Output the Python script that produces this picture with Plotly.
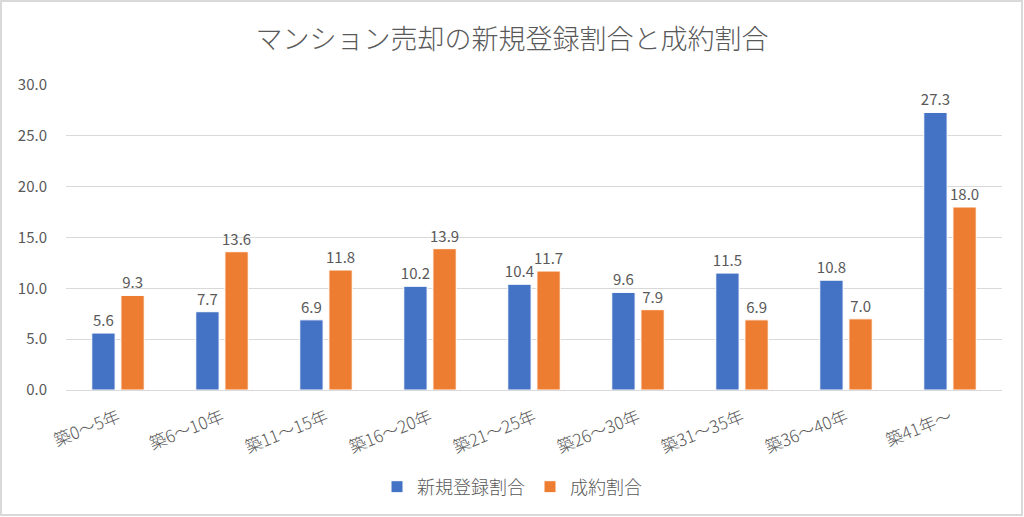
import plotly.graph_objects as go

categories = ["築0～5年", "築6～10年", "築11～15年", "築16～20年", "築21～25年",
              "築26～30年", "築31～35年", "築36～40年", "築41年～"]
new_listing = [5.6, 7.7, 6.9, 10.2, 10.4, 9.6, 11.5, 10.8, 27.3]
contracted = [9.3, 13.6, 11.8, 13.9, 11.7, 7.9, 6.9, 7.0, 18.0]
series_names = ["新規登録割合", "成約割合"]
y_ticks = [0, 5, 10, 15, 20, 25, 30]

FONT = "Noto Sans CJK JP"
GRAY = "#595959"

fig = go.Figure()
for name, vals, color in [(series_names[0], new_listing, "#4472C4"),
                          (series_names[1], contracted, "#ED7D31")]:
    fig.add_trace(go.Bar(
        x=categories, y=vals, name=name,
        marker=dict(color=color, line=dict(color="white", width=1)),
        text=[f"{v:.1f}" for v in vals], textposition="outside",
        constraintext="none",
        textfont=dict(family=FONT, size=15, color=GRAY),
        cliponaxis=False,
    ))

L, R, T, B = 66, 22, 85, 127
W, H = 1024, 517
pw, ph = W - L - R, H - T - B

def px_x(p):
    return (p - L) / pw

def px_y(p):
    return (H - B - p) / ph

fig.update_layout(
    width=W, height=H,
    margin=dict(l=L, r=R, t=T, b=B, autoexpand=False),
    paper_bgcolor="white", plot_bgcolor="white",
    font=dict(family=FONT, color=GRAY),
    title=dict(text="マンション売却の新規登録割合と成約割合", x=0.5, xref="container",
               y=1 - 40 / H, yref="container", xanchor="center", yanchor="middle",
               font=dict(size=27, color=GRAY, family=FONT, weight=300)),
    barmode="group", bargap=0.44, bargroupgap=0.2,
    showlegend=True,
    legend=dict(orientation="h", x=px_x(512), xanchor="center", y=px_y(487), yanchor="middle",
                font=dict(size=18, color=GRAY, family=FONT, weight=300), traceorder="normal",
                itemwidth=30),
    xaxis=dict(tickangle=-22, tickfont=dict(size=17, color=GRAY, family=FONT, weight=300),
               showline=True, linecolor="#d9d9d9", linewidth=1, ticks="",
               automargin=False, ticklabelstandoff=10),
    yaxis=dict(range=[0, 30], tickvals=y_ticks, ticktext=[f"{v:.1f}" for v in y_ticks],
               tickfont=dict(size=15, color=GRAY, family=FONT),
               gridcolor="#d9d9d9", gridwidth=1, zeroline=False, showline=False, ticks="",
               ticklabelstandoff=18, automargin=False),
    shapes=[dict(type="rect", xref="paper", yref="paper",
                 x0=px_x(1), x1=px_x(W - 2), y0=px_y(H - 2), y1=px_y(1),
                 line=dict(color="#d9d9d9", width=2), fillcolor="rgba(0,0,0,0)", layer="below")],
)

fig.write_html("out.html", config={"displayModeBar": False},
               post_script="document.body.style.margin='0';document.body.style.overflow='hidden';")
